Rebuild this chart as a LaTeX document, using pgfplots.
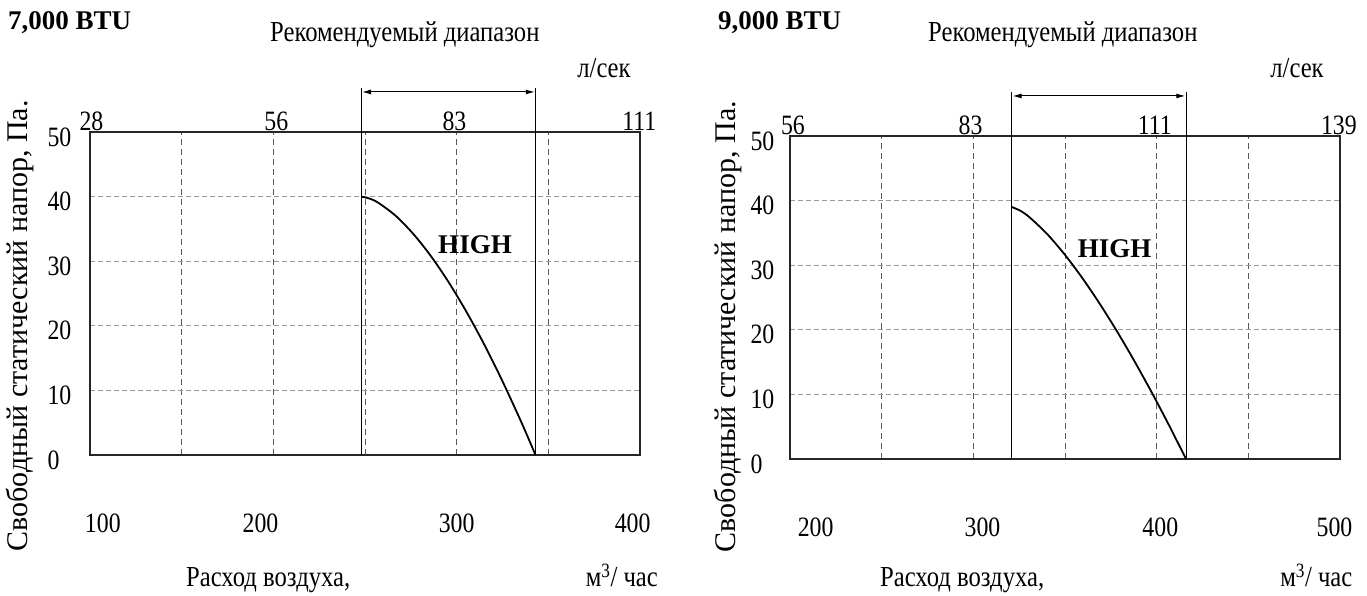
\documentclass[border=0pt]{standalone}
\usepackage{fontspec}
\setmainfont{Liberation Serif}
\newfontfamily\condf{Liberation Serif}[FakeStretch=0.85]
\usepackage{pgfplots}
\pgfplotsset{compat=1.18}
\usetikzlibrary{arrows.meta}

\newcommand\tickf{\condf\fontsize{28}{32}\selectfont}
\newcommand\labf{\condf\fontsize{29}{33}\selectfont}
\newcommand\ylabf{\fontsize{30}{34}\selectfont}
\newcommand\boldf{\fontsize{27}{31}\selectfont\bfseries}

\pgfplotstableread{
x y
248 40
252.75 39.67
257.5 39.0
267 36.96
276.5 34.17
286 30.77
295.5 26.8
305 22.33
314.5 17.4
324 12.01
333.5 6.2
338.25 3.15
343 0
}\curveA

\pgfplotstableread{
x y
321 39
325.75 38.41
330.5 37.45
340 34.9
349.5 31.77
359 28.19
368.5 24.22
378 19.93
387.5 15.33
397 10.46
406.5 5.35
416 0
}\curveB

\pgfplotsset{
  panel/.style={
    scale only axis, width=550pt, height=323pt,
    ymin=0, ymax=50, clip=false,
    ytick={0,10,20,30,40,50},
    major tick length=0pt,
    /pgf/number format/assume math mode=true,
    tick label style={font=\tickf},
    yticklabel style={anchor=west, xshift=-46pt, yshift=-5pt},
    xticklabels={},
    xticklabel style={yshift=-55pt},
    xmajorgrids, ymajorgrids,
    every axis x grid/.style={draw=black!65, line width=0.9pt, dash pattern=on 6pt off 4pt},
    every axis y grid/.style={draw=black!40, line width=1.3pt, dash pattern=on 5pt off 3pt},
    axis line style={draw=black!85, line width=1.6pt},
    extra x tick style={grid=none},
    xlabel style={font=\labf},
    ylabel style={font=\ylabf},
  },
  toppanel/.style={
    scale only axis, width=550pt, height=323pt,
    ymin=0, ymax=50,
    axis x line*=top, axis y line=none,
    axis line style={draw=none},
    major tick length=0pt,
    /pgf/number format/assume math mode=true,
    tick label style={font=\tickf},
    xticklabel style={yshift=-2pt},
  },
}

\begin{document}
\begin{tikzpicture}
\path[use as bounding box] (0pt,0pt) rectangle (1367pt,596pt);

% ---------- Left panel: 7,000 BTU ----------
\begin{axis}[panel, at={(90pt,141pt)}, anchor=south west,
  xmin=100, xmax=400,
  xtick={150,200,250,300,350},
  extra x ticks={107,193,300,396},
  extra x tick labels={100,200,300,400},
  ylabel={Свободный статический напор, Па.},
  ylabel style={at={(axis description cs:-0.128,0.40)}, anchor=center},
  xlabel={Расход воздуха,},
  xlabel style={at={(axis description cs:0.324,-0.406)}, anchor=base},
]
\addplot[black, line width=1.8pt, smooth] table {\curveA};
\addplot[black, line width=1pt] coordinates {(248,0) (248,56.8)};
\addplot[black, line width=1pt] coordinates {(343,0) (343,56.8)};
\addplot[black, line width=1pt, {Latex[length=9pt,width=5pt]}-{Latex[length=9pt,width=5pt]}] coordinates {(248.4,56.2) (342.6,56.2)};
\node[font=\boldf] at (axis cs:310,32.5) {HIGH};
\node[font=\labf, anchor=base] at (axis description cs:0.967,-0.406) {м\textsuperscript{3}/ час};
\end{axis}
\begin{axis}[toppanel, at={(90pt,141pt)}, anchor=south west,
  xmin=100, xmax=400,
  xtick={100.8,201.6,298.8,399.6}, xticklabels={28,56,83,111}]
\end{axis}

% ---------- Right panel: 9,000 BTU ----------
\begin{axis}[panel, at={(790pt,137pt)}, anchor=south west,
  xmin=200, xmax=500,
  xtick={250,300,350,400,450},
  extra x ticks={214,305,402,497},
  extra x tick labels={200,300,400,500},
  yticklabel style={xshift=3pt},
  ylabel={Свободный статический напор, Па.},
  ylabel style={at={(axis description cs:-0.113,0.41)}, anchor=center},
  xlabel={Расход воздуха,},
  xlabel style={at={(axis description cs:0.313,-0.394)}, anchor=base},
]
\addplot[black, line width=1.8pt, smooth] table {\curveB};
\addplot[black, line width=1pt] coordinates {(321,0) (321,56.8)};
\addplot[black, line width=1pt] coordinates {(416,0) (416,56.8)};
\addplot[black, line width=1pt, {Latex[length=9pt,width=5pt]}-{Latex[length=9pt,width=5pt]}] coordinates {(321.4,56.2) (415.6,56.2)};
\node[font=\boldf] at (axis cs:377,32.5) {HIGH};
\node[font=\labf, anchor=base] at (axis description cs:0.957,-0.394) {м\textsuperscript{3}/ час};
\end{axis}
\begin{axis}[toppanel, at={(790pt,137pt)}, anchor=south west,
  xmin=200, xmax=501,
  xtick={201.6,298.8,399.6,500.4}, xticklabels={56,83,111,139}]
\end{axis}

\node[font=\boldf, anchor=west, inner sep=0pt] at (8pt,573pt) {7,000 BTU};
\node[font=\boldf, anchor=west, inner sep=0pt] at (718pt,573pt) {9,000 BTU};
\node[font=\labf, anchor=west, inner sep=0pt] at (270pt,561pt) {Рекомендуемый диапазон};
\node[font=\labf, anchor=west, inner sep=0pt] at (928pt,561pt) {Рекомендуемый диапазон};
\node[font=\labf] at (604pt,528pt) {л/сек};
\node[font=\labf] at (1297pt,528pt) {л/сек};
\end{tikzpicture}
\end{document}
